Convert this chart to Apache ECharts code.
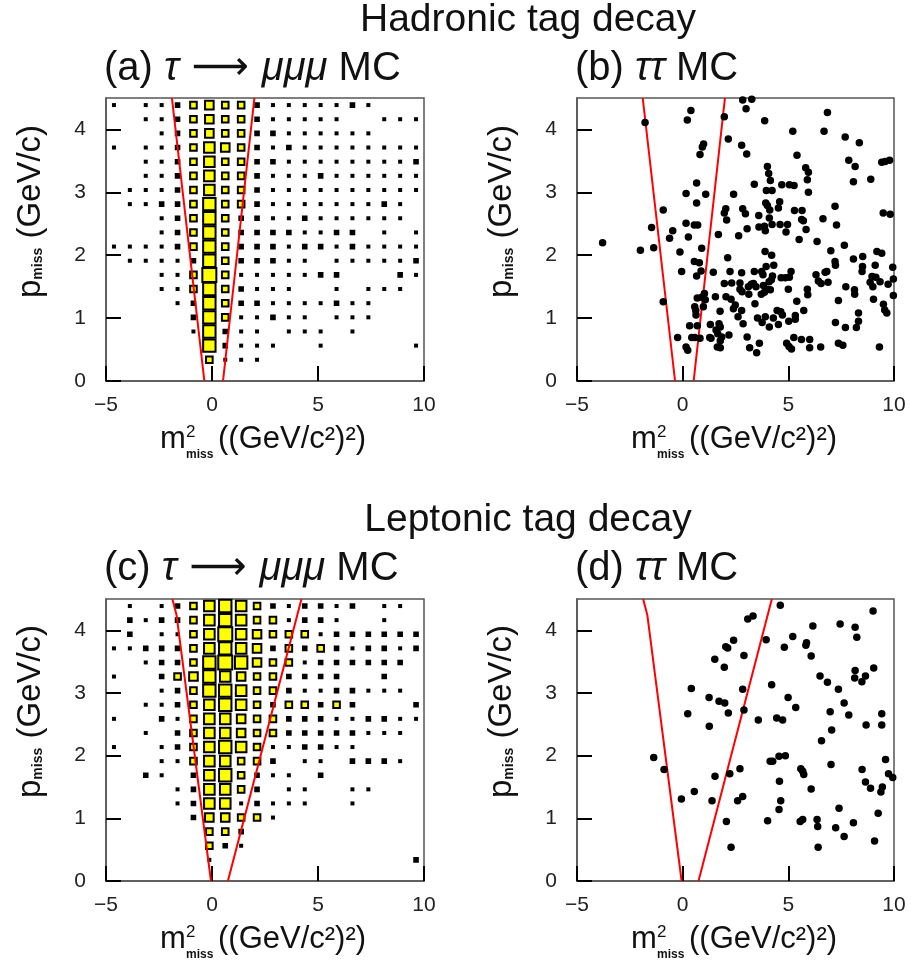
<!DOCTYPE html>
<html>
<head>
<meta charset="utf-8">
<script src="https://cdn.jsdelivr.net/npm/echarts@6/dist/echarts.min.js"></script>
<style>
  html, body { margin: 0; padding: 0; background: #fff; }
  #chart { width: 911px; height: 971px; }
</style>
</head>
<body>
<div id="chart"></div>
<script>
// ---------- binning (m2miss, pmiss) ----------
const xBinCenters = [-4.625,-3.875,-3.125,-2.375,-1.625,-0.875,-0.125,0.625,1.375,2.125,2.875,3.625,4.375,5.125,5.875,6.625,7.375,8.125,8.875,9.625];
// rows listed from top (pmiss ~4.39) to bottom (pmiss ~0.11)
const yBinCenters = [4.3875,4.1625,3.9375,3.7125,3.4875,3.2625,3.0375,2.8125,2.5875,2.3625,2.1375,1.9125,1.6875,1.4625,1.2375,1.0125,0.7875,0.5625,0.3375,0.1125];

const xTicks = [-5, 0, 5, 10];
const yTicks = [0, 1, 2, 3, 4];

// (a) tau -> mumumu MC, hadronic tag : relative box content per cell
const hadSignal = [
  [1,0,1,1,2,3,4,3,3,2,1,1,1,1,1,2,1,0,0,0],
  [0,0,1,1,2,3,4,3,3,2,1,1,1,1,1,0,0,1,1,1],
  [0,0,0,1,2,3,4,3,3,2,2,1,1,1,1,1,1,0,0,0],
  [1,0,1,1,2,3,5,4,3,2,1,2,1,1,1,1,1,1,1,1],
  [0,0,1,1,2,3,5,3,3,2,2,1,1,1,1,1,1,1,1,2],
  [0,0,1,1,2,3,5,3,3,2,1,1,1,2,1,1,1,1,1,1],
  [0,1,1,1,2,3,5,3,3,2,1,1,1,1,1,1,1,1,1,1],
  [0,1,1,2,2,3,6,3,3,2,1,1,1,1,1,1,1,2,1,0],
  [0,0,0,1,2,3,6,3,2,2,1,1,2,1,1,1,1,1,1,0],
  [0,0,0,1,2,3,6,3,2,2,2,2,1,1,2,2,0,1,0,1],
  [1,1,1,1,2,3,6,3,2,2,2,1,2,2,1,2,1,1,1,1],
  [0,1,1,1,1,2,6,3,2,2,2,1,1,0,1,1,1,1,1,2],
  [0,0,0,1,1,3,7,3,1,1,1,1,1,2,2,0,0,0,2,1],
  [0,0,0,1,1,3,6,3,2,1,1,1,0,0,1,0,1,1,1,0],
  [0,0,0,0,1,2,6,3,2,2,1,1,1,1,2,1,1,0,0,0],
  [0,0,0,0,0,2,6,3,1,1,2,1,1,0,1,1,1,0,0,0],
  [0,0,0,0,0,1,6,2,1,1,0,1,1,1,0,1,0,0,0,0],
  [0,0,0,0,0,0,6,2,1,1,1,0,0,1,0,0,0,0,0,1],
  [0,0,0,0,0,0,3,1,1,1,0,0,0,0,0,0,0,0,0,0],
  [0,0,0,0,0,0,0,0,0,0,0,0,0,0,0,0,0,0,0,0]
];

// (c) tau -> mumumu MC, leptonic tag
const lepSignal = [
  [0,1,0,1,2,3,5,6,5,3,2,1,2,2,1,2,0,1,1,0],
  [0,2,1,2,2,3,5,6,5,3,3,1,2,2,1,0,0,1,0,0],
  [0,2,0,1,1,3,5,7,5,4,3,3,3,1,2,2,2,2,2,2],
  [1,1,2,2,2,3,5,6,5,4,2,3,2,3,2,1,2,2,1,2],
  [0,0,1,2,2,3,6,7,6,4,3,3,1,2,2,2,2,2,2,0],
  [1,0,0,2,3,4,6,5,4,3,3,2,2,2,2,0,0,2,0,0],
  [0,0,0,1,2,3,6,6,5,3,3,2,1,1,2,2,1,1,1,0],
  [0,0,1,1,2,3,5,6,5,3,2,3,3,2,3,2,0,0,0,2],
  [1,0,0,2,1,3,5,5,4,3,3,2,2,2,1,1,2,2,1,1],
  [0,0,1,0,2,3,5,5,4,3,3,2,2,2,2,2,1,1,1,0],
  [1,0,0,1,2,3,5,6,5,3,1,1,2,2,1,1,0,0,0,0],
  [0,0,0,1,1,3,5,5,3,3,2,0,1,1,0,2,2,2,1,0],
  [0,0,2,1,0,2,5,6,3,2,1,1,0,2,0,0,0,0,0,0],
  [0,0,0,0,1,2,5,5,3,2,0,1,1,0,0,1,1,0,0,0],
  [0,0,0,0,1,2,5,5,1,2,1,1,1,0,0,1,0,0,0,0],
  [0,0,0,0,0,2,4,4,3,3,1,0,0,0,0,0,0,0,0,0],
  [0,0,0,0,0,0,3,3,2,0,0,0,0,0,0,0,0,0,0,0],
  [0,0,0,0,0,0,3,2,1,0,0,0,0,0,0,0,0,0,0,0],
  [0,0,0,0,0,0,1,0,0,0,0,0,0,0,0,0,0,0,0,2],
  [0,0,0,0,0,0,0,0,0,0,0,0,0,0,0,0,0,0,0,0]
];

// (b) tau tau MC, hadronic tag : [m2miss, pmiss]
const hadTauTau = [
  [2.84,4.47],[3.27,4.48],[3.00,4.33],[0.39,4.30],[0.22,4.15],[-1.78,4.11],[1.97,4.20],[3.88,4.14],[6.85,4.27],[5.21,3.97],
  [6.69,3.97],[7.69,3.88],[8.36,3.79],[2.16,3.85],[2.79,3.75],[3.03,3.61],[0.99,3.77],[0.93,3.72],[0.82,3.60],[5.41,3.59],
  [7.86,3.51],[8.16,3.41],[9.42,3.48],[9.58,3.49],[9.79,3.51],[4.01,3.41],[4.07,3.30],[5.82,3.39],[5.95,3.32],[4.15,3.19],
  [5.90,3.20],[8.08,3.17],[8.90,3.21],[0.66,3.15],[3.39,3.13],[4.69,3.12],[5.05,3.12],[5.27,3.11],[3.96,3.03],[4.23,3.03],
  [5.95,3.00],[0.16,2.98],[1.09,2.97],[2.41,2.97],[0.66,2.83],[3.93,2.83],[4.01,2.79],[4.59,2.85],[4.53,2.75],[4.12,2.72],
  [7.21,2.78],[-0.92,2.72],[2.04,2.74],[1.97,2.67],[2.84,2.74],[2.97,2.66],[3.60,2.63],[5.29,2.71],[5.65,2.71],[2.08,2.56],
  [4.10,2.59],[5.63,2.57],[5.71,2.55],[6.64,2.58],[9.49,2.67],[9.82,2.65],[0.16,2.51],[0.55,2.48],[0.71,2.48],[-1.47,2.44],
  [3.05,2.42],[3.61,2.45],[3.87,2.46],[4.23,2.49],[4.61,2.49],[4.96,2.49],[3.91,2.39],[4.89,2.37],[5.84,2.41],[7.28,2.48],
  [-0.47,2.39],[-0.62,2.27],[0.27,2.29],[1.69,2.33],[2.65,2.31],[5.51,2.25],[6.36,2.22],[7.65,2.16],[-3.79,2.20],[-2.00,2.08],
  [-1.37,2.12],[-0.13,2.05],[0.90,2.11],[3.90,2.06],[4.21,2.00],[7.01,2.07],[9.19,2.06],[9.42,2.03],[8.08,1.94],[8.52,1.98],
  [2.13,1.96],[0.55,1.90],[0.79,1.88],[-0.05,1.74],[0.87,1.75],[1.45,1.73],[2.24,1.74],[2.79,1.72],[3.39,1.74],[3.95,1.82],
  [4.31,1.84],[3.80,1.69],[3.74,1.74],[4.25,1.67],[4.66,1.64],[4.86,1.64],[5.05,1.65],[5.13,1.74],[6.31,1.69],[6.74,1.73],
  [6.82,1.74],[7.21,1.90],[7.23,1.84],[9.11,1.84],[8.51,1.82],[8.49,1.74],[8.96,1.66],[9.14,1.65],[9.94,1.81],[0.66,1.67],
  [1.97,1.55],[2.32,1.56],[2.71,1.56],[3.35,1.55],[4.09,1.58],[4.20,1.61],[5.00,1.46],[6.42,1.59],[6.55,1.55],[6.88,1.57],
  [8.87,1.57],[9.97,1.62],[9.34,1.58],[9.72,1.54],[2.71,1.46],[2.81,1.42],[3.13,1.38],[3.25,1.54],[3.11,1.50],[3.72,1.38],
  [3.87,1.41],[3.98,1.46],[4.15,1.45],[3.82,1.52],[3.47,1.50],[2.05,1.34],[2.29,1.30],[1.55,1.34],[1.03,1.39],[0.90,1.33],
  [0.69,1.32],[1.07,1.29],[0.98,1.18],[0.57,1.18],[0.62,1.12],[0.63,1.05],[-0.92,1.26],[5.90,1.46],[5.92,1.37],[7.72,1.50],
  [8.13,1.45],[8.14,1.38],[9.00,1.50],[9.97,1.36],[9.50,1.22],[9.56,1.13],[9.66,1.08],[9.03,1.30],[7.37,1.28],[5.40,1.27],
  [2.49,1.21],[2.40,1.15],[2.79,1.12],[3.42,1.23],[4.47,1.12],[4.64,1.10],[4.72,1.05],[4.29,1.00],[3.91,1.02],[5.73,1.12],
  [5.33,1.04],[5.33,0.98],[5.02,0.95],[4.53,0.90],[4.10,0.86],[3.76,0.93],[3.54,1.00],[1.77,1.11],[2.86,0.91],[2.62,1.02],
  [8.32,1.08],[8.32,0.95],[8.22,0.85],[7.70,0.85],[7.23,0.93],[0.33,0.88],[0.69,0.88],[1.31,0.90],[1.72,0.91],[1.78,0.86],
  [1.58,0.81],[1.66,0.75],[1.85,0.70],[2.19,0.73],[1.78,0.64],[1.64,0.54],[1.78,0.53],[-0.24,0.69],[0.43,0.69],[0.57,0.69],
  [0.82,0.68],[1.28,0.69],[1.34,0.68],[3.05,0.70],[3.63,0.60],[5.26,0.69],[5.62,0.66],[6.01,0.66],[6.01,0.53],[4.92,0.60],
  [5.03,0.55],[5.15,0.51],[3.17,0.53],[3.50,0.45],[6.53,0.54],[7.37,0.60],[7.58,0.57],[9.31,0.54],[0.16,0.54],[0.24,0.49]
];

// (d) tau tau MC, leptonic tag
const lepTauTau = [
  [4.62,4.40],[9.01,4.31],[3.08,4.18],[3.33,4.23],[7.45,4.10],[6.16,4.07],[8.16,4.05],[8.24,3.89],[5.21,3.90],[3.95,3.85],
  [2.41,3.84],[2.04,3.74],[2.13,3.72],[5.86,3.80],[5.83,3.76],[4.81,3.73],[2.90,3.60],[6.08,3.59],[1.52,3.54],[1.97,3.41],
  [9.04,3.40],[8.16,3.36],[6.50,3.27],[8.14,3.24],[8.65,3.27],[8.48,3.18],[6.85,3.17],[4.21,3.13],[0.41,3.07],[2.84,3.06],
  [7.37,3.06],[1.25,2.93],[1.72,2.87],[1.99,2.84],[4.99,2.93],[7.64,2.84],[5.35,2.77],[2.90,2.73],[0.24,2.67],[2.16,2.68],
  [6.98,2.70],[7.86,2.65],[9.42,2.67],[3.58,2.57],[4.45,2.60],[4.73,2.57],[1.26,2.47],[8.68,2.49],[9.42,2.49],[7.05,2.41],
  [6.57,2.24],[-1.37,1.97],[-0.88,1.78],[4.56,1.99],[4.86,2.00],[4.14,1.91],[4.26,1.91],[9.60,1.94],[7.02,1.86],[2.71,1.79],
  [2.23,1.71],[1.53,1.67],[5.59,1.79],[5.68,1.75],[5.73,1.70],[8.49,1.78],[9.74,1.71],[9.94,1.65],[4.58,1.59],[8.65,1.58],
  [8.89,1.48],[9.45,1.50],[9.38,1.42],[6.08,1.47],[0.55,1.43],[-0.06,1.31],[1.39,1.28],[2.60,1.28],[2.84,1.35],[4.64,1.28],
  [4.56,1.14],[7.40,1.16],[9.25,1.08],[2.07,0.95],[4.02,0.96],[5.56,0.95],[5.68,0.98],[6.36,0.98],[6.39,0.87],[8.08,0.93],
  [7.24,0.85],[7.64,0.71],[9.08,0.64],[2.29,0.54],[6.41,0.54]
];

// selection cut lines [m2miss, pmiss]
const hadCutLeft  = [[-0.36, 0], [-1.89, 4.5]];
const hadCutRight = [[0.52, 0], [2.00, 4.5]];
const lepCutLeft  = [[-0.05, 0], [-1.67, 4.24], [-1.87, 4.5]];
const lepCutRight = [[0.75, 0], [4.22, 4.5]];

// ---------- build ----------
function cells(matrix) {
  const out = [];
  matrix.forEach((row, r) => row.forEach((v, c) => {
    if (v > 0) out.push([xBinCenters[c], yBinCenters[r], v]);
  }));
  return out;
}

const FONT = '"Liberation Sans", Arial, sans-serif';
const BOX_SIDE = [0, 2.0, 3.6, 6.6, 8.6, 10.6, 12.4, 14.0]; // drawing size per content level
const grids = [
  { left: 106, top: 98,  width: 318, height: 283 },
  { left: 577, top: 98,  width: 317, height: 283 },
  { left: 106, top: 599, width: 318, height: 282 },
  { left: 577, top: 599, width: 317, height: 282 }
];

function xAxisFor(i) {
  return {
    gridIndex: i, type: 'value', min: -5, max: 10, interval: 5,
    axisLine: { show: true, onZero: false, lineStyle: { color: '#555', width: 1.5 } },
    axisTick: { show: true, inside: true, length: 15, customValues: xTicks, lineStyle: { color: '#000', width: 2 } },
    axisLabel: { customValues: xTicks, fontSize: 21, fontFamily: FONT, color: '#222', margin: 14,
      formatter: v => (v < 0 ? '\u2212' + Math.abs(v) : String(v)) },
    splitLine: { show: false }
  };
}
function yAxisFor(i) {
  return {
    gridIndex: i, type: 'value', min: 0, max: 4.5, interval: 1,
    axisLine: { show: true, onZero: false, lineStyle: { color: '#555', width: 1.5 } },
    axisTick: { show: true, inside: true, length: 15, customValues: yTicks, lineStyle: { color: '#000', width: 2 } },
    axisLabel: { customValues: yTicks, fontSize: 21, fontFamily: FONT, color: '#222', margin: 20 },
    splitLine: { show: false }
  };
}

function boxSeries(i, matrix) {
  return {
    type: 'scatter', xAxisIndex: i, yAxisIndex: i, symbol: 'rect',
    data: cells(matrix),
    symbolSize: v => BOX_SIDE[v[2]],
    itemStyle: {
      color: p => (p.value[2] <= 2 ? '#000' : '#ffff00'),
      borderColor: '#000', borderWidth: 2, opacity: 1
    },
    emphasis: { disabled: true }, silent: true, z: 2
  };
}
function dotSeries(i, pts) {
  return {
    type: 'scatter', xAxisIndex: i, yAxisIndex: i, symbol: 'circle', symbolSize: 7.5,
    data: pts, itemStyle: { color: '#000', opacity: 1 }, emphasis: { disabled: true }, silent: true, z: 4
  };
}
function cutSeries(i, pts) {
  return {
    type: 'line', xAxisIndex: i, yAxisIndex: i, data: pts, showSymbol: false, symbol: 'none',
    lineStyle: { color: '#ff0000', width: 2 }, silent: true, z: 3, clip: true, animation: false
  };
}

// ---------- text ----------
function textEl(x, y, text, size, extra) {
  return {
    type: 'text', x: x, y: y, silent: true,
    style: Object.assign({ text: text, fontSize: size, fontFamily: FONT, fill: '#111',
      align: 'left', verticalAlign: 'middle', textAlign: 'left', textVerticalAlign: 'middle' }, extra || {})
  };
}
function xTitle(gx, gy) {
  return [
    textEl(gx + 54, gy + 58, 'm', 31),
    textEl(gx + 80, gy + 51, '2', 17),
    textEl(gx + 80, gy + 74, 'miss', 12, { fontWeight: 'bold' }),
    textEl(gx + 112, gy + 58, '((GeV/c\u00b2)\u00b2)', 31)
  ];
}
function yTitle(x, yBottom) {
  return {
    type: 'text', x: x, y: yBottom, rotation: Math.PI / 2, silent: true,
    style: {
      text: '{p|p}{s|miss} {t|(GeV/c)}',
      align: 'left', verticalAlign: 'middle', textAlign: 'left', textVerticalAlign: 'middle',
      fontSize: 33, fontFamily: FONT, fill: '#111',
      rich: {
        p: { fontSize: 33, fontFamily: FONT, fill: '#111' },
        s: { fontSize: 14, fontWeight: 'bold', fontFamily: FONT, fill: '#111', verticalAlign: 'bottom', padding: [0, 0, 2, 0] },
        t: { fontSize: 33, fontFamily: FONT, fill: '#111' }
      }
    }
  };
}
function panelTitle(x, y, label, decay) {
  const rich = {
    g: { fontSize: 40, fontFamily: FONT, fontStyle: 'italic', fill: '#111' },
    r: { fontSize: 40, fontFamily: '"DejaVu Sans", sans-serif', fill: '#111' },
    n: { fontSize: 40, fontFamily: FONT, fill: '#111' }
  };
  const text = decay ? '{n|' + label + ' }{g|\u03c4}{r| \u27f6 }{g|\u03bc\u03bc\u03bc}{n| MC}'
                     : '{n|' + label + ' }{g|\u03c4\u03c4}{n| MC}';
  return { type: 'text', x: x, y: y, silent: true,
    style: { text: text, rich: rich, fontSize: 40, fontFamily: FONT, fill: '#111',
      align: 'left', verticalAlign: 'middle', textAlign: 'left', textVerticalAlign: 'middle' } };
}

const graphics = [
  textEl(528, 20, 'Hadronic tag decay', 39, { align: 'center', textAlign: 'center' }),
  textEl(528, 520, 'Leptonic tag decay', 39, { align: 'center', textAlign: 'center' }),
  panelTitle(104, 69, '(a)', true),
  panelTitle(575, 69, '(b)', false),
  panelTitle(104, 569, '(c)', true),
  panelTitle(575, 569, '(d)', false),
  ...xTitle(106, 381), ...xTitle(577, 381), ...xTitle(106, 881), ...xTitle(577, 881),
  yTitle(31, 298), yTitle(502, 298), yTitle(31, 798), yTitle(502, 798)
];

const chart = echarts.init(document.getElementById('chart'), null, { renderer: 'canvas' });
chart.setOption({
  animation: false,
  backgroundColor: '#ffffff',
  grid: grids.map(g => Object.assign({ show: true, borderColor: '#555', borderWidth: 1.5, backgroundColor: 'transparent', containLabel: false }, g)),
  xAxis: [0, 1, 2, 3].map(xAxisFor),
  yAxis: [0, 1, 2, 3].map(yAxisFor),
  series: [
    boxSeries(0, hadSignal), cutSeries(0, hadCutLeft), cutSeries(0, hadCutRight),
    cutSeries(1, hadCutLeft), cutSeries(1, hadCutRight), dotSeries(1, hadTauTau),
    boxSeries(2, lepSignal), cutSeries(2, lepCutLeft), cutSeries(2, lepCutRight),
    cutSeries(3, lepCutLeft), cutSeries(3, lepCutRight), dotSeries(3, lepTauTau)
  ],
  graphic: { elements: graphics }
});
</script>
</body>
</html>
